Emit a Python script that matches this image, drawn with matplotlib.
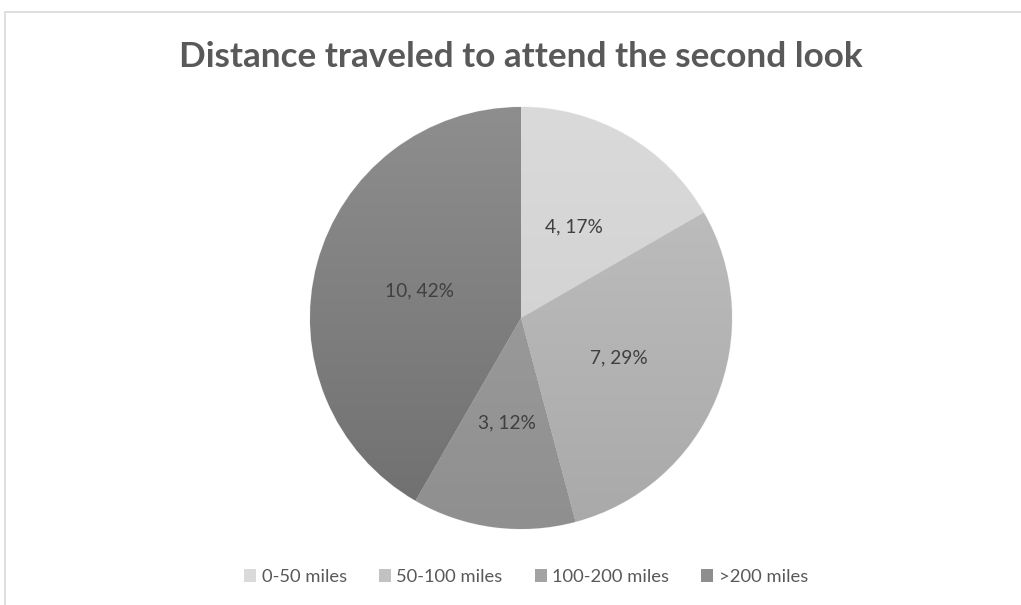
import numpy as np
import matplotlib
matplotlib.use("Agg")
import matplotlib.pyplot as plt
from matplotlib.colors import LinearSegmentedColormap
from matplotlib.patches import Rectangle

# data
categories = ["0-50 miles", "50-100 miles", "100-200 miles", ">200 miles"]
counts = [4, 7, 3, 10]
pct_labels = ["17%", "29%", "12%", "42%"]

# top / bottom shade of each slice (gradient fill)
top_colors = ["#dadada", "#c2c2c2", "#a3a3a3", "#8e8e8e"]
bottom_colors = ["#cdcdcd", "#a9a9a9", "#8f8f8f", "#6f6f6f"]

plt.rcParams['font.family'] = ['Lato', 'DejaVu Sans']

W, H = 1021, 605
fig = plt.figure(figsize=(W / 100, H / 100), dpi=100)

# chart area border
fig.patches.append(Rectangle((5 / W, -0.01), 1.02, (H - 12) / H + 0.01,
                             transform=fig.transFigure, fill=False,
                             edgecolor="#d9d9d9", linewidth=1.2))

cx, cy, r = 521, 318, 211
ax = fig.add_axes([(cx - r) / W, (H - cy - r) / H, 2 * r / W, 2 * r / H])

labels = [f"{c}, {p}" for c, p in zip(counts, pct_labels)]
wedges, texts = ax.pie(counts, startangle=90, counterclock=False,
                       colors=top_colors, labels=labels, labeldistance=0.5,
                       radius=1,
                       wedgeprops=dict(edgecolor="#f2f2f2", linewidth=0.8),
                       textprops=dict(color="#404040", fontsize=13.8,
                                      ha="center", va="center"))

# vertical gradient inside each wedge
grad = np.linspace(0, 1, 256).reshape(-1, 1)
for w, c0, c1 in zip(wedges, top_colors, bottom_colors):
    cmap = LinearSegmentedColormap.from_list("g", [c1, c0])
    im = ax.imshow(grad, extent=(-1, 1, -1, 1), origin="lower", cmap=cmap,
                   aspect="auto", zorder=w.get_zorder() + 0.1)
    im.set_clip_path(w)
for t in texts:
    t.set_zorder(5)

ax.set_xlim(-1, 1)
ax.set_ylim(-1, 1)
ax.set_aspect("equal")
ax.axis("off")

fig.text(cx / W, 1 - 57 / H, "Distance traveled to attend the second look",
         ha="center", va="center", fontsize=25.3, fontweight="bold",
         color="#595959")

handles = [Rectangle((0, 0), 1, 1, facecolor=c, edgecolor="none")
           for c in top_colors]
fig.legend(handles, categories, loc="center", bbox_to_anchor=(526 / W, 1 - 577 / H),
           ncol=4, frameon=False, fontsize=13.2, labelcolor="#595959",
           handlelength=0.65, handleheight=0.65, handletextpad=0.3,
           columnspacing=1.75)

fig.savefig("out.png", dpi=100, facecolor="white")
